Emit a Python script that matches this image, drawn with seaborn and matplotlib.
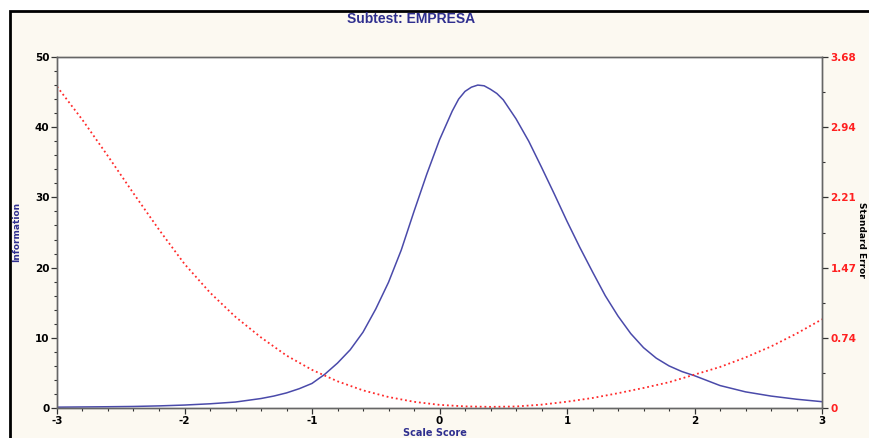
import matplotlib
matplotlib.use("Agg")
import matplotlib.pyplot as plt
from matplotlib.patches import Rectangle
from matplotlib.ticker import MultipleLocator, FixedLocator
import seaborn as sns
import pandas as pd

# ---- data ----
theta_info = [-3.0, -2.8, -2.6, -2.4, -2.2, -2.0, -1.8, -1.6, -1.5, -1.4, -1.3, -1.2,
              -1.1, -1.0, -0.9, -0.8, -0.7, -0.6, -0.5, -0.4, -0.3, -0.2, -0.1, 0.0,
              0.1, 0.15, 0.2, 0.25, 0.3, 0.35, 0.4, 0.45, 0.5, 0.6, 0.7, 0.8, 0.9, 1.0,
              1.1, 1.2, 1.3, 1.4, 1.5, 1.6, 1.7, 1.8, 1.9, 2.0, 2.2, 2.4, 2.6, 2.8, 3.0]
information = [0.12, 0.15, 0.18, 0.22, 0.30, 0.42, 0.60, 0.85, 1.10, 1.35, 1.70, 2.15,
               2.75, 3.50, 4.80, 6.40, 8.30, 10.8, 14.1, 17.9, 22.5, 28.0, 33.3, 38.2,
               42.3, 44.0, 45.1, 45.7, 46.0, 45.9, 45.4, 44.8, 43.9, 41.2, 38.0, 34.3,
               30.5, 26.6, 22.9, 19.4, 16.0, 13.1, 10.6, 8.6, 7.1, 6.0, 5.2, 4.6, 3.2,
               2.3, 1.7, 1.25, 0.9]

theta_se = [-3.0, -2.8, -2.6, -2.4, -2.2, -2.0, -1.8, -1.6, -1.4, -1.2, -1.0, -0.8,
            -0.6, -0.4, -0.2, 0.0, 0.2, 0.4, 0.6, 0.8, 1.0, 1.2, 1.4, 1.6, 1.8, 2.0,
            2.2, 2.4, 2.6, 2.8, 3.0]
std_error = [3.37, 3.02, 2.64, 2.25, 1.87, 1.51, 1.21, 0.955, 0.74, 0.55, 0.40, 0.28,
             0.185, 0.115, 0.065, 0.033, 0.017, 0.012, 0.016, 0.035, 0.066, 0.105, 0.155,
             0.21, 0.27, 0.35, 0.43, 0.53, 0.645, 0.78, 0.93]

x_ticks = [-3, -2, -1, 0, 1, 2, 3]
left_ticks = [0, 10, 20, 30, 40, 50]
right_ticks = [0, 0.736, 1.472, 2.208, 2.944, 3.68]
right_labels = ["0", "0.74", "1.47", "2.21", "2.94", "3.68"]

title_text = "Subtest: EMPRESA"
xlabel_text = "Scale Score"
ylabel_text = "Information"
y2label_text = "Standard Error"

# ---- styling ----
sns.set_style("ticks")
plt.rcParams["font.family"] = ["DejaVu Sans"]
plt.rcParams["axes.unicode_minus"] = False

W, H = 869, 438
fig = plt.figure(figsize=(W / 100, H / 100), dpi=100, facecolor="white")

# cream chart frame
fig.add_artist(Rectangle((10 / W, -0.1), 1.2, 1 - 11 / H + 0.1, transform=fig.transFigure,
                         facecolor="#FCF9F1", edgecolor="black", linewidth=2, zorder=-5))

ax = fig.add_axes([57 / W, 1 - 408 / H, 765 / W, 351 / H])
ax.set_facecolor("white")
ax2 = ax.twinx()

df_info = pd.DataFrame({"theta": theta_info, "info": information})
df_se = pd.DataFrame({"theta": theta_se, "se": std_error})

sns.lineplot(data=df_info, x="theta", y="info", ax=ax, color="#4A4AAA", linewidth=1.1)
sns.lineplot(data=df_se, x="theta", y="se", ax=ax2, color="#FF2A2A", linewidth=1.3,
             linestyle=(0, (1, 1.6)))

ax.set_xlim(-3, 3)
ax.set_ylim(0, 50)
ax2.set_ylim(0, 3.68)

ax.xaxis.set_major_locator(FixedLocator(x_ticks))
ax.xaxis.set_minor_locator(MultipleLocator(0.2))
ax.yaxis.set_major_locator(FixedLocator(left_ticks))
ax.yaxis.set_minor_locator(MultipleLocator(2))
ax2.yaxis.set_major_locator(FixedLocator(right_ticks))
ax2.set_yticklabels(right_labels)
ax2.yaxis.set_minor_locator(FixedLocator([0.368, 1.104, 1.84, 2.576, 3.312]))

for a in (ax, ax2):
    for s in a.spines.values():
        s.set_color("#666666")
        s.set_linewidth(1.0)
        s.set_visible(True)

ax.tick_params(axis="both", which="major", length=4, width=0.9, color="#333333",
               labelsize=7.5, pad=1.5)
ax.tick_params(axis="both", which="minor", length=2.5, width=0.8, color="#333333")
ax2.tick_params(axis="y", which="major", length=4, width=0.9, color="#333333",
                labelsize=7.5, labelcolor="#FF2020", pad=2)
ax2.tick_params(axis="y", which="minor", length=2.5, width=0.8, color="#333333")

for lab in ax.get_xticklabels() + ax.get_yticklabels():
    lab.set_fontweight("bold")
    lab.set_color("black")
for lab in ax2.get_yticklabels():
    lab.set_fontweight("bold")
    lab.set_color("#FF2020")

ax.set_xlabel("")
ax.set_ylabel("")
ax2.set_ylabel("")

navy = "#2F2F8F"
fig.text(411 / W, 1 - 19 / H, title_text, ha="center", va="center", fontsize=10,
         fontweight="bold", color=navy, family=["Liberation Sans", "DejaVu Sans"])
fig.text(17 / W, 1 - 232 / H, ylabel_text, ha="center", va="center", rotation=90,
         fontsize=6.5, fontweight="bold", color=navy)
fig.text(435 / W, 1 - 433 / H, xlabel_text, ha="center", va="center", fontsize=7,
         fontweight="bold", color=navy)
fig.text(857 / W, 1 - 240 / H, y2label_text, ha="left", va="center", rotation=270,
         fontsize=6.5, fontweight="bold", color="black")

fig.savefig("out.png", dpi=100, facecolor="white")
